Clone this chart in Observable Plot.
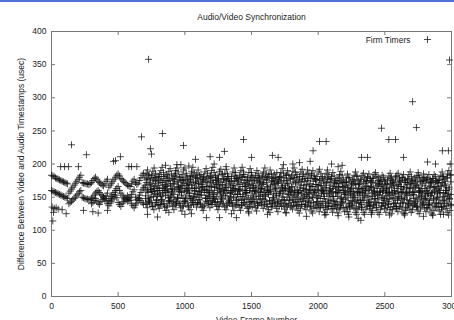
<!DOCTYPE html>
<html>
<head>
<meta charset="utf-8">
<script src="https://cdn.jsdelivr.net/npm/d3@7"></script>
<script src="https://cdn.jsdelivr.net/npm/@observablehq/plot@0.6"></script>
<style>
  html, body { margin: 0; padding: 0; background: #fff; width: 454px; height: 320px; overflow: hidden; }
  #topline { position: absolute; left: 0; top: 0; width: 454px; height: 2px; background: #4f70d4; z-index: 2; }
  #chart svg { max-width: none !important; display: block; }
</style>
</head>
<body>
<div id="topline"></div>
<div id="chart"></div>
<script>
// ---- Data ----
const title = "Audio/Video Synchronization";
const xLabel = "Video Frame Number";
const yLabel = "Difference Between Video and Audio Timestamps (usec)";
const seriesName = "Firm Timers";
const xTicks = [0, 500, 1000, 1500, 2000, 2500, 3000];
const yTicks = [0, 50, 100, 150, 200, 250, 300, 350, 400];

// early section: frames 0..690, one sample every 10 frames
const earlyStart = 0;
const earlyUpper = [183,182,181,179,178,177,176,175,174,173,172,171,170,
  156,159,162,165,168,171,174,177,180,183,
  172,171,171,170,170,169,170,
  172,175,178,180,177,174,172,170,168,167,170,174,177,
  165,168,171,174,177,180,183,185,182,178,176,174,172,170,
  168,167,166,170,174,177,172,169,171,175,179,183,186];
const earlyLower = [160,159,158,157,156,155,154,153,152,151,150,149,148,
  140,142,144,146,148,150,153,155,158,160,
  150,149,148,147,147,146,146,
  148,150,153,156,158,160,157,154,152,150,148,152,156,
  145,148,151,154,157,160,163,166,160,156,153,150,148,146,
  144,146,150,154,158,161,150,146,149,153,157,161,164];
// third band: frames 300..690
const thirdStart = 300;
const earlyThird = [140,142,145,148,144,141,139,143,146,150,
  147,144,140,137,141,144,147,150,153,149,
  142,139,136,140,143,146,149,152,148,145,
  140,137,134,138,141,145,148,145,142,139];

// cloud section: from frame ~700, one sample every 10 frames per layer
const cloudTopStart = 700;
const cloudTop = [180,186,191,184,177,183,189,194,186,179,
176,184,190,195,187,181,175,182,189,193,
185,178,183,190,194,188,180,176,184,191,
194,186,179,174,182,189,195,187,180,185,
191,183,177,173,181,188,193,186,178,183,
190,195,187,180,175,182,189,192,184,178,
186,192,185,178,174,181,188,194,187,180,
176,183,190,195,188,181,175,180,187,193,
187,180,176,183,190,186,179,174,181,188,
194,186,179,184,191,185,178,173,180,187,
173,180,187,193,186,179,183,190,184,177,
182,189,194,187,180,174,181,188,192,185,
178,184,191,186,179,185,190,183,176,181,
188,192,185,178,173,180,186,191,184,177,
181,187,182,175,171,178,184,189,183,176,
172,179,185,180,174,170,177,183,188,181,
175,170,177,183,186,180,174,179,185,178,
172,178,184,187,181,175,171,177,183,180,
174,169,176,182,186,180,173,170,177,183,
186,179,173,179,184,177,172,178,184,188,
181,175,170,176,182,187,180,174,179,185,
180,174,179,184,177,172,178,184,181,175,
171,177,183,188,181,174,179,185,190,183];
const cloudHighStart = 701;
const cloudHigh = [168,176,161,183,171,158,179,166,174,160,
181,163,172,157,178,169,184,162,175,167,
159,177,170,185,164,173,158,180,167,176,
163,182,171,156,177,168,183,160,174,179,
170,158,184,165,176,161,179,172,157,181,
166,175,160,183,169,178,163,172,185,158,
177,164,181,170,156,174,167,182,161,178,
173,159,180,166,184,171,157,176,169,163,
182,168,175,160,179,165,172,158,183,170,
161,177,166,181,158,174,169,185,163,176,
171,156,180,167,175,162,183,170,159,178,
165,179,160,172,184,157,176,168,181,163,
174,162,178,155,170,182,166,159,177,169,
160,176,167,181,158,171,164,179,156,173,
178,163,170,157,175,166,180,160,172,165,
157,172,164,179,161,168,176,155,170,182,
169,158,177,163,173,156,166,181,162,175,
164,179,159,171,167,180,157,174,168,160,
176,161,170,155,178,165,172,159,181,167,
158,173,166,180,162,175,156,169,177,163,
171,157,179,164,168,183,160,173,158,176,
163,177,159,172,166,156,178,165,174,161,
175,160,168,181,157,170,164,179,162,184];
const cloudUpperMidStart = 703;
const cloudUpperMid = [165,172,178,169,162,168,175,180,171,164,
168,175,181,172,165,160,167,174,179,170,
163,170,176,181,173,166,161,168,175,171,
176,168,162,169,176,181,172,165,171,178,
171,164,169,176,180,173,166,160,167,174,
180,172,165,170,177,174,167,161,169,176,
168,175,181,173,165,160,168,175,178,170,
162,169,176,180,172,166,160,168,174,179,
171,165,159,167,174,179,171,163,169,176,
180,172,164,159,167,175,179,170,164,171,
177,181,173,165,160,168,175,171,164,159,
166,173,179,170,162,157,165,173,177,168,
161,169,175,167,160,166,174,178,169,162,
168,175,167,161,156,164,172,177,168,162,
158,166,172,164,158,165,171,174,166,160,
167,173,165,159,155,163,170,173,164,158,
163,170,162,157,164,171,175,167,160,166,
173,165,159,155,163,169,174,166,158,164,
171,163,157,164,170,175,167,160,155,163,
169,175,166,158,165,172,164,157,164,171,
174,165,158,167,173,165,157,163,170,175,
167,160,155,164,171,174,165,158,166,172,
163,157,166,172,177,168,160,155,165,173];
const cloudMidLowStart = 705;
const cloudMidLow = [148,139,157,144,162,136,151,159,142,154,
137,155,146,163,140,152,135,158,145,150,
156,143,161,138,149,164,141,153,136,159,
144,160,137,152,147,163,139,155,150,142,
158,141,153,136,162,148,157,140,151,145,
139,154,147,165,143,136,158,150,141,161,
152,137,160,145,157,140,149,163,138,154,
146,162,138,151,141,156,147,135,160,143,
135,150,143,158,137,152,162,141,148,157,
151,139,157,144,161,136,149,142,155,140,
143,159,136,150,145,163,138,154,147,135,
157,142,150,137,155,146,160,139,148,153,
139,154,144,161,136,150,142,157,134,149,
152,137,158,143,148,135,155,141,160,145,
136,151,144,156,139,161,134,149,143,155,
147,135,153,140,158,137,150,144,133,157,
141,156,134,150,145,160,138,152,143,136,
155,139,148,134,153,142,159,137,150,145,
138,152,143,158,135,149,140,155,133,147,
150,136,157,142,147,134,153,140,158,143,
137,154,140,149,135,158,144,151,139,156,
148,134,155,141,152,138,146,159,136,150,
141,156,135,150,144,160,137,153,147,139];
const cloudLowerMidStart = 706;
const cloudLowerMid = [152,159,147,142,150,158,163,155,146,152,
160,151,144,153,160,166,157,149,143,152,
161,154,146,141,150,158,164,157,148,143,
150,158,164,156,148,142,151,159,163,154,
146,153,160,166,157,149,143,152,158,165,
156,148,142,151,157,163,155,146,153,160,
165,156,147,141,151,159,163,154,147,155,
160,151,145,154,160,166,157,149,142,152,
158,164,155,147,141,151,157,163,154,146,
153,160,154,145,140,149,155,161,152,144,
152,158,164,155,146,140,150,156,162,153,
146,153,159,150,143,138,147,155,159,150,
144,151,157,148,141,149,155,161,152,143,
140,148,155,160,151,143,137,146,153,158,
151,144,137,143,151,157,148,140,146,154,
158,149,141,136,145,152,158,149,141,146,
153,145,139,147,153,159,150,142,137,146,
151,157,148,140,147,153,158,149,141,148,
156,147,140,147,153,157,148,141,136,145,
151,157,148,141,149,155,146,138,145,152,
157,148,141,136,146,152,158,149,140,147,
153,146,138,145,152,157,148,141,149,155,
147,140,135,145,151,156,147,140,148,154];
const cloudBottomStart = 708;
const cloudBottom = [140,134,144,149,141,136,131,138,145,139,
133,139,146,140,135,130,137,144,149,141,
136,131,138,143,148,140,134,129,137,144,
148,141,135,131,138,145,149,142,135,140,
146,139,134,130,137,144,148,141,134,139,
144,149,142,136,131,138,143,148,140,135,
131,138,143,149,142,136,130,138,145,139,
135,130,137,142,147,139,133,128,136,143,
147,140,134,129,137,142,147,139,133,138,
143,136,131,127,135,141,146,138,133,128,
136,141,146,138,132,127,135,140,145,137,
132,138,143,136,130,126,133,139,144,136,
131,137,142,135,129,126,133,138,143,135,
128,134,140,134,127,124,131,136,141,133,
127,133,139,132,126,132,137,142,134,128,
134,128,124,132,138,143,134,127,124,131,
136,142,134,127,124,131,136,141,133,127,
130,137,142,134,127,124,131,136,141,133,
127,134,139,131,125,131,136,141,133,128,
135,140,132,126,123,130,135,140,132,127,
131,138,143,135,129,125,132,137,142,134,
128,134,139,132,126,123,130,135,141,135,
129,124,131,136,141,133,127,123,130,137];

// scattered points (frame, value)
const strayFrames = [5,20,35,50,80,10,15,68,98,128,150,202,262,110,240,310,350,420,465,480,517,580,600,640,675,728,742,750,720,795,833,855,940,970,990,1030,1080,1050,1162,1190,1220,1260,1260,1297,1310,1387,1440,1500,1657,1700,1740,1810,1860,1912,1940,1962,2010,2060,2100,2150,2180,2300,2320,2325,2370,2475,2530,2580,2535,2640,2708,2737,2790,2820,2880,2932,2977,2985,2940,2990,880,1000,1350,1480,1620,1760,2050,2150,2230,2400,2650,2860];
const strayValues = [135,133,134,132,131,114,127,196,196,196,229,196,214,125,130,128,126,130,204,205,211,196,196,196,241,358,223,215,124,120,246,198,199,199,228,197,207,125,119,211,200,210,119,219,196,119,237,210,213,210,199,200,202,121,204,220,234,234,200,196,198,118,115,210,210,254,237,237,123,210,294,255,121,203,200,220,220,357,124,200,127,124,125,126,124,126,123,122,120,124,125,123];

// ---- build table for the library ----
const pts = [];
const addSeries = (start, values) => values.forEach((v, i) => { if (v != null) pts.push({frame: start + i * 10, usec: v}); });
addSeries(earlyStart, earlyUpper);
addSeries(earlyStart, earlyLower);
addSeries(thirdStart, earlyThird);
addSeries(cloudTopStart, cloudTop);
addSeries(cloudHighStart, cloudHigh);
addSeries(cloudUpperMidStart, cloudUpperMid);
addSeries(cloudMidLowStart, cloudMidLow);
addSeries(cloudLowerMidStart, cloudLowerMid);
addSeries(cloudBottomStart, cloudBottom);
strayFrames.forEach((f, i) => pts.push({frame: f, usec: strayValues[i]}));

// gnuplot-style "+" symbol
const plusSymbol = {
  draw(context, size) {
    const r = Math.sqrt(size / Math.PI);
    context.moveTo(-r, 0); context.lineTo(r, 0);
    context.moveTo(0, -r); context.lineTo(0, r);
  }
};

const font = "Liberation Sans, Arial, Helvetica, sans-serif";
const axisColor = "#777";
const textColor = "#222";
const fmt = d => String(d);

const chart = Plot.plot({
  width: 480,
  height: 330,
  marginTop: 31,
  marginLeft: 51,
  marginRight: 29,
  marginBottom: 34,
  style: {fontFamily: font, fontSize: "8.5px", background: "white", color: textColor, overflow: "visible"},
  x: {domain: [0, 3000]},
  y: {domain: [0, 400]},
  marks: [
    Plot.frame({stroke: axisColor}),
    // inward ticks on all four sides
    Plot.tickX(xTicks, {x: d => d, insetTop: 261, stroke: axisColor}),
    Plot.tickX(xTicks, {x: d => d, insetBottom: 261, stroke: axisColor}),
    Plot.tickY(yTicks, {y: d => d, insetRight: 396, stroke: axisColor}),
    Plot.tickY(yTicks, {y: d => d, insetLeft: 396, stroke: axisColor}),
    Plot.axisX({ticks: xTicks, tickSize: 0, tickPadding: 6, tickFormat: fmt, label: null, fill: textColor}),
    Plot.axisY({ticks: yTicks, tickSize: 0, tickPadding: 5, tickFormat: fmt, label: null, fill: textColor}),
    Plot.dot(pts, {x: "frame", y: "usec", symbol: plusSymbol, r: 3.5, stroke: "#111", fill: "none", strokeWidth: 0.75}),
    // legend
    Plot.text([seriesName], {frameAnchor: "top-right", dx: -41, dy: 9, textAnchor: "end", lineAnchor: "middle", fill: textColor}),
    Plot.dot([seriesName], {frameAnchor: "top-right", dx: -24, dy: 8, symbol: plusSymbol, r: 3.5, stroke: "#111", fill: "none", strokeWidth: 0.75}),
    // title and axis labels
    Plot.text([title], {frameAnchor: "top", dy: -14, textAnchor: "middle", lineAnchor: "middle", fill: textColor}),
    Plot.text([xLabel], {frameAnchor: "bottom", dx: 5, dy: 24, textAnchor: "middle", lineAnchor: "middle", fill: textColor}),
    Plot.text([yLabel], {frameAnchor: "left", dx: -30, rotate: -90, textAnchor: "middle", lineAnchor: "middle", fill: textColor})
  ]
});
document.getElementById("chart").appendChild(chart);
</script>
</body>
</html>
